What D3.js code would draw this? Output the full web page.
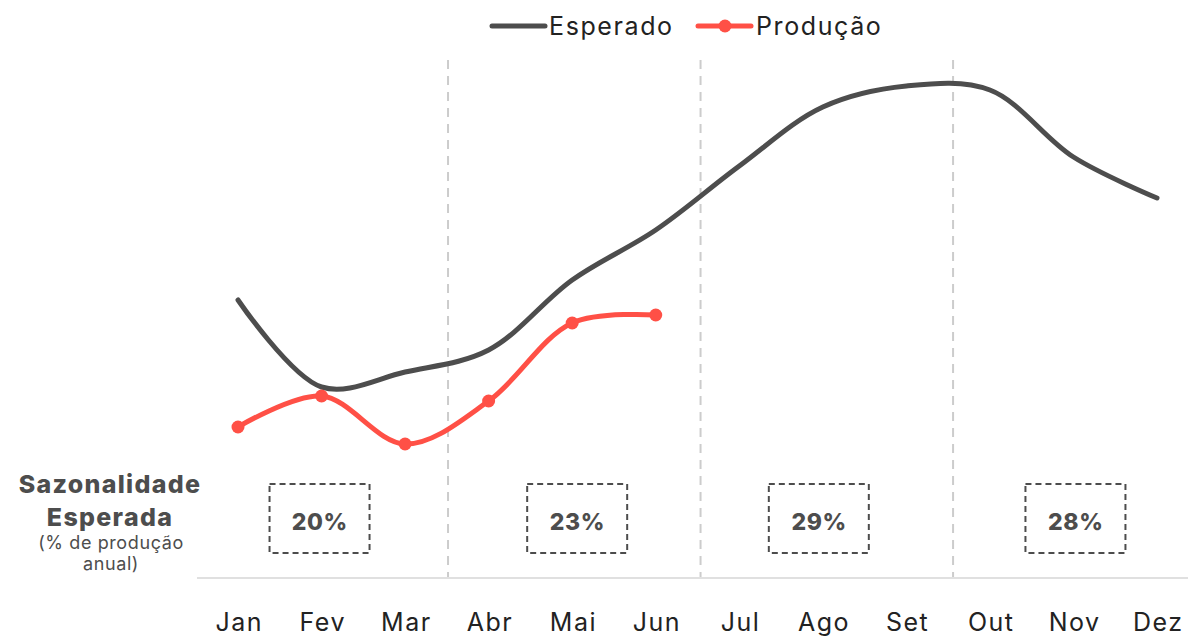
<!DOCTYPE html>
<html>
<head>
<meta charset="utf-8">
<script src="https://cdn.jsdelivr.net/npm/d3@7"></script>
<style>
  html, body { margin: 0; padding: 0; background: #fff; }
  svg { display: block; font-family: Inter, "Open Sans", sans-serif; }
</style>
</head>
<body>
<svg id="chart" width="1188" height="636"></svg>
<script>
const months = ["Jan","Fev","Mar","Abr","Mai","Jun","Jul","Ago","Set","Out","Nov","Dez"];
const esperado = [52, 34.6, 37.6, 42, 56, 66, 78.8, 90.6, 94.8, 94, 80.6, 72.4];
const producao = [26.6, 32.8, 23.2, 31.8, 47.4, 49];
const quarterLabels = ["20%", "23%", "29%", "28%"];
const quarterCenters = ["Fev", "Mai", "Ago", "Nov"];
const quarterDividers = [2.5, 5.5, 8.5];

const svg = d3.select("#chart");
const colDark = "#4d4d4d", colRed = "#ff5046";

const x = d3.scalePoint().domain(months).range([238, 1157]);
const xDiv = d3.scaleLinear().domain([0, 11]).range([237.6, 1163.5]);
const y = d3.scaleLinear().domain([0, 100]).range([560, 60]);
const boxNudge = [-2, 5, -4, 2];

// baseline
svg.append("line").attr("x1", 197).attr("x2", 1188).attr("y1", 578).attr("y2", 578)
  .attr("stroke", "#e0e0e0").attr("stroke-width", 2);

// dashed dividers
quarterDividers.forEach(d => {
  const xx = xDiv(d);
  svg.append("line").attr("x1", xx).attr("x2", xx).attr("y1", 60).attr("y2", 577)
    .attr("stroke", "#cccccc").attr("stroke-width", 2).attr("stroke-dasharray", "9,7");
});

// x axis labels
const xAxis = d3.axisBottom(x).tickSize(0).tickPadding(0);
const gx = svg.append("g").attr("transform", "translate(0,613)").call(xAxis);
gx.select(".domain").remove();
gx.selectAll("text").attr("font-size", 25).attr("fill", "#222")
  .attr("font-family", "Inter, sans-serif").attr("letter-spacing", "1.5px").attr("dx", "0.75px");

const curve = d3.curveCatmullRom.alpha(0.5);
const line = d3.line().x((d, i) => x(months[i])).y(d => y(d)).curve(curve);

svg.append("path").datum(esperado).attr("d", line)
  .attr("fill", "none").attr("stroke", colDark).attr("stroke-width", 5).attr("stroke-linecap", "round");

svg.append("path").datum(producao).attr("d", line)
  .attr("fill", "none").attr("stroke", colRed).attr("stroke-width", 5).attr("stroke-linecap", "round");
svg.selectAll("circle.p").data(producao).join("circle").attr("class", "p")
  .attr("cx", (d, i) => x(months[i])).attr("cy", d => y(d)).attr("r", 6.5).attr("fill", colRed);

// quarter boxes
quarterCenters.forEach((m, i) => {
  const cx = x(m) + boxNudge[i];
  svg.append("rect").attr("x", cx - 50).attr("y", 484).attr("width", 100).attr("height", 69)
    .attr("fill", "none").attr("stroke", colDark).attr("stroke-width", 2).attr("stroke-dasharray", "6,4");
  svg.append("text").attr("x", cx + 0.3).attr("y", 521.5).attr("text-anchor", "middle").attr("dominant-baseline", "central")
    .attr("font-size", 23).attr("font-weight", 800).attr("letter-spacing", "0.6px").attr("fill", colDark).text(quarterLabels[i]);
});

// left annotation
const ann = svg.append("g").attr("text-anchor", "middle").attr("fill", colDark);
ann.append("text").attr("x", 110).attr("y", 493).attr("font-size", 25).attr("font-weight", 800).attr("letter-spacing", "1.3px").text("Sazonalidade");
ann.append("text").attr("x", 110).attr("y", 526).attr("font-size", 25).attr("font-weight", 800).attr("letter-spacing", "1.3px").text("Esperada");
ann.append("text").attr("x", 111).attr("y", 549).attr("font-size", 18).attr("font-weight", 400).attr("letter-spacing", "0.6px").text("(% de produção");
ann.append("text").attr("x", 111).attr("y", 570).attr("font-size", 18).attr("font-weight", 400).attr("letter-spacing", "0.6px").text("anual)");

// legend
const lg = svg.append("g");
lg.append("line").attr("x1", 492).attr("x2", 545).attr("y1", 26).attr("y2", 26)
  .attr("stroke", colDark).attr("stroke-width", 5).attr("stroke-linecap", "round");
lg.append("text").attr("x", 549).attr("y", 26).attr("dominant-baseline", "central")
  .attr("font-size", 25).attr("letter-spacing", "1.6px").attr("fill", "#222").text("Esperado");
lg.append("line").attr("x1", 698).attr("x2", 751).attr("y1", 26).attr("y2", 26)
  .attr("stroke", colRed).attr("stroke-width", 5).attr("stroke-linecap", "round");
lg.append("circle").attr("cx", 725).attr("cy", 26).attr("r", 6.5).attr("fill", colRed);
lg.append("text").attr("x", 756).attr("y", 26).attr("dominant-baseline", "central")
  .attr("font-size", 25).attr("letter-spacing", "1.6px").attr("fill", "#222").text("Produção");
</script>
</body>
</html>
